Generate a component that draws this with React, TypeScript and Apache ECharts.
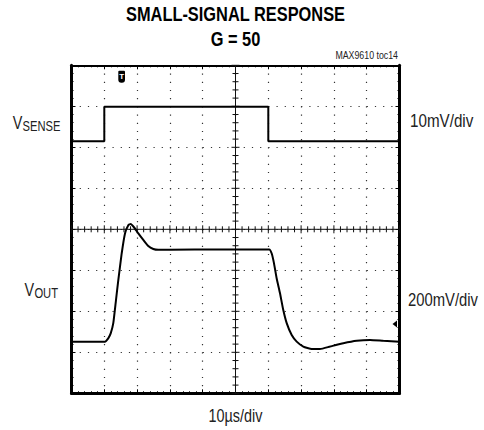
import React, { useEffect, useRef } from "react";
import * as echarts from "echarts";

const titleLines = ["SMALL-SIGNAL RESPONSE", "G = 50"];
const noteText = "MAX9610 toc14";
const timeDivLabel = "10µs/div";
const vsenseScaleLabel = "10mV/div";
const voutScaleLabel = "200mV/div";

// x: time in µs (10 µs/div, 10 divisions); y: screen divisions (-4..4)
const xRange = [0, 100];
const yRange = [-4, 4];

const vsenseTrace: [number, number][] = [
  [0, 2.15], [10, 2.15], [10, 2.99], [60, 2.99], [60, 2.15], [100, 2.15],
];

const voutTrace: [number, number][] = [
  [0, -2.74], [10.2, -2.74], [11.2, -2.66], [11.95, -2.54], [12.74, -2.29],
  [13.57, -1.72], [14.27, -1.24], [15.3, -0.59], [16.31, -0.1], [17.32, 0.1],
  [18.05, 0.13], [19.05, 0.05], [20.37, -0.1], [21.89, -0.26], [23.41, -0.41],
  [24.94, -0.48], [26.46, -0.5], [30.03, -0.5], [45, -0.49], [60.3, -0.49],
  [61.04, -0.59], [61.74, -0.83], [62.56, -1.2], [63.57, -1.56], [64.57, -1.97],
  [65.61, -2.29], [67.13, -2.58], [68.66, -2.74], [70.67, -2.86], [73.23, -2.92],
  [75.76, -2.92], [78.81, -2.86], [82.87, -2.78], [86.95, -2.72], [91.01, -2.7],
  [95.06, -2.72], [100, -2.74],
];

const font = '"Liberation Sans", Arial, Helvetica, sans-serif';
const SX = 0.8;

export default function App() {
  const ref = useRef<HTMLDivElement>(null);
  useEffect(() => {
    if (!ref.current) return;
    const chart = echarts.init(ref.current, null, { renderer: "svg" });
    const edgeAxis = (width: number) => ({
      show: true,
      onZero: false,
      lineStyle: { color: "#000", width },
    });
    const tick = { show: true, inside: true, length: 4, lineStyle: { color: "#000", width: 1 } };
    const minor = { show: true, splitNumber: 5, length: 2, lineStyle: { color: "#000", width: 1 } };
    const dotted = { show: true, lineStyle: { color: "#333", width: 1.2, type: [1.2, 7] as any } };

    const txt = (
      text: string, x: number, y: number, size: number,
      align: string, opts: { bold?: boolean; fill?: string; sx?: number } = {}
    ) => ({
      type: "text",
      x,
      y,
      scaleX: opts.sx ?? SX,
      style: {
        text,
        fontFamily: font,
        fontWeight: opts.bold ? "bold" : "normal",
        fontSize: size,
        fill: opts.fill ?? "#222",
        align,
        verticalAlign: "middle",
      },
    });

    const option: any = {
      animation: false,
      backgroundColor: "#fff",
      grid: { left: 71.5, top: 65.3, width: 328, height: 328, containLabel: false },
      xAxis: [
        {
          type: "value", min: xRange[0], max: xRange[1], interval: 10, position: "bottom",
          axisLine: edgeAxis(3), axisTick: tick, minorTick: minor,
          axisLabel: { show: false }, splitLine: dotted,
        },
        {
          type: "value", min: xRange[0], max: xRange[1], interval: 10, position: "top",
          axisLine: edgeAxis(2), axisTick: tick, minorTick: minor,
          axisLabel: { show: false }, splitLine: { show: false },
        },
      ],
      yAxis: [
        {
          type: "value", min: yRange[0], max: yRange[1], interval: 1, position: "left",
          axisLine: edgeAxis(3), axisTick: tick, minorTick: minor,
          axisLabel: { show: false }, splitLine: dotted,
        },
        {
          type: "value", min: yRange[0], max: yRange[1], interval: 1, position: "right",
          axisLine: edgeAxis(3), axisTick: tick, minorTick: minor,
          axisLabel: { show: false }, splitLine: { show: false },
        },
      ],
      series: [
        {
          type: "custom",
          xAxisIndex: 0,
          yAxisIndex: 0,
          silent: true,
          z: 1,
          data: [[50, 0]],
          renderItem: (params: any, api: any) => {
            const children: any[] = [];
            const c = api.coord([50, 0]);
            const l = api.coord([xRange[0], 0]);
            const r = api.coord([xRange[1], 0]);
            const t = api.coord([50, yRange[1]]);
            const b = api.coord([50, yRange[0]]);
            const st = { stroke: "#111", lineWidth: 1 };
            children.push({ type: "line", shape: { x1: l[0], y1: c[1], x2: r[0], y2: c[1] }, style: st });
            children.push({ type: "line", shape: { x1: c[0], y1: t[1], x2: c[0], y2: b[1] }, style: st });
            for (let k = 0; k <= 50; k++) {
              const p = api.coord([k * 2, 0]);
              const len = k % 5 === 0 ? 4 : 3;
              children.push({ type: "line", shape: { x1: p[0], y1: c[1] - len, x2: p[0], y2: c[1] + len }, style: st });
            }
            for (let k = -20; k <= 20; k++) {
              const p = api.coord([50, k * 0.2]);
              const len = k % 5 === 0 ? 4 : 3;
              children.push({ type: "line", shape: { x1: c[0] - len, y1: p[1], x2: c[0] + len, y2: p[1] }, style: st });
            }
            return { type: "group", children };
          },
        },
        {
          name: "VSENSE",
          type: "line",
          data: vsenseTrace,
          showSymbol: false,
          z: 5,
          lineStyle: { color: "#000", width: 2 },
        },
        {
          name: "VOUT",
          type: "line",
          data: voutTrace,
          showSymbol: false,
          smooth: 0.15,
          z: 5,
          lineStyle: { color: "#000", width: 2 },
        },
      ],
      graphic: [
        txt(titleLines[0], 235.5, 14, 20, "center", { bold: true, fill: "#000", sx: 0.82 }),
        txt(titleLines[1], 235.5, 39, 20, "center", { bold: true, fill: "#000", sx: 0.82 }),
        txt(noteText, 398, 55, 11, "right"),
        txt("V", 12.7, 122, 18, "left"),
        txt("SENSE", 22.6, 126.5, 14, "left"),
        txt("V", 24.5, 289, 18, "left"),
        txt("OUT", 34.4, 293.5, 14, "left"),
        txt(vsenseScaleLabel, 410, 120.5, 19, "left"),
        txt(voutScaleLabel, 408, 300, 19, "left", { sx: 0.78 }),
        txt(timeDivLabel, 235.5, 415, 18, "center"),
        {
          type: "group",
          children: [
            { type: "rect", shape: { x: 118.3, y: 70.7, width: 6.7, height: 12, r: [1, 1, 3, 3] }, style: { fill: "#000" } },
            { type: "text", x: 121.65, y: 76.5, style: { text: "T", fontFamily: font, fontWeight: "bold", fontSize: 8, fill: "#fff", align: "center", verticalAlign: "middle" } },
          ],
        },
        { type: "polygon", shape: { points: [[392.5, 324], [397, 320.5], [397, 327.5]] }, style: { fill: "#000" } },
      ],
    };
    chart.setOption(option);
    return () => chart.dispose();
  }, []);
  return (
    <div
      ref={ref}
      style={{ position: "fixed", left: 0, top: 0, width: 484, height: 430, background: "#fff" }}
    />
  );
}
